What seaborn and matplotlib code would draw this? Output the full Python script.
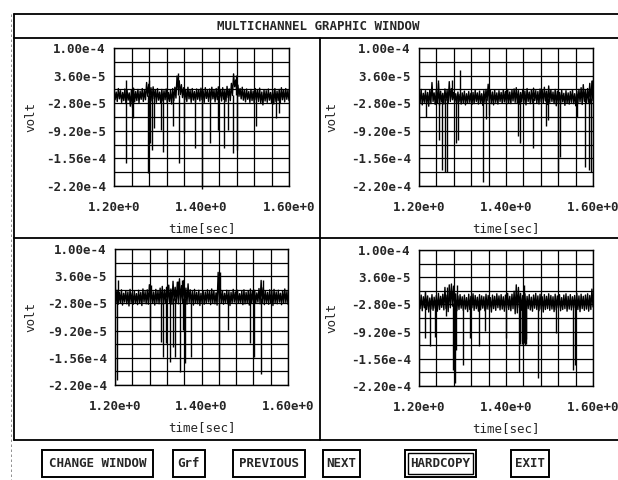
import numpy as np
import pandas as pd
import matplotlib
matplotlib.use("Agg")
import matplotlib.pyplot as plt
import seaborn as sns
from matplotlib.lines import Line2D
from matplotlib.patches import Rectangle

# noise band of each trace: upper / lower extremes every 5 ms, in 1e-5 volt
# --- channel 1 (top left) ---
ch1_hi = [0.4, -0.2, 0.6, 0.1, -0.3, 0.5, 0.2, -0.4, 0.3, 0.7,
          -0.1, 0.4, 0.0, 0.6, 0.2, 2.0, 1.6, 0.8, 1.0, 0.3,
          0.6, -0.2, 0.4, 0.1, 0.5, -0.3, 0.2, 0.6, 0.9, 3.5,
          2.4, 1.5, 0.8, 0.4, 0.9, 0.2, 0.6, -0.1, 0.5, 0.3,
          0.7, 0.1, 0.8, 0.2, 0.5, 0.9, 0.3, 0.6, 1.0, 0.4,
          0.8, 0.2, 1.1, 0.5, 1.8, 4.0, 2.6, 1.4, 0.6, 0.9,
          0.2, 0.5, -0.1, 0.4, 0.0, 0.6, 0.2, 0.7, -0.2, 0.3,
          0.1, 0.5, -0.3, 0.2, 0.6, 0.0, 0.4, 0.8, 0.3, 0.6,
          0.2]
ch1_lo = [-2.0, -2.4, -1.8, -2.6, -2.2, -2.9, -2.1, -3.5, -3.8, -2.5,
          -2.2, -2.7, -1.9, -2.4, -2.0, -1.2, -1.5, -2.3, -1.8, -2.6,
          -2.1, -2.8, -2.3, -2.0, -2.7, -2.4, -3.0, -2.2, -1.6, 0.5,
          -0.8, -1.5, -2.0, -2.4, -1.8, -2.6, -2.1, -2.5, -1.9, -2.3,
          -2.0, -2.6, -1.7, -2.4, -2.1, -1.8, -2.5, -2.0, -1.6, -2.3,
          -1.9, -2.4, -1.5, -2.2, -1.0, 1.0, -0.2, -1.2, -1.8, -2.1,
          -2.5, -1.9, -2.6, -2.2, -2.8, -2.0, -2.4, -2.7, -3.2, -2.3,
          -2.6, -2.1, -2.8, -3.0, -2.4, -2.2, -2.7, -2.0, -2.5, -1.9,
          -2.2]
ch1_level = -1.0
ch1_spike_t = [1.2267, 1.2280, 1.2434, 1.2785, 1.2805, 1.2825, 1.2870, 1.2910,
               1.3067, 1.3120, 1.3350, 1.3465, 1.3486, 1.3603, 1.3844, 1.4011,
               1.4187, 1.4377, 1.4507, 1.4606, 1.4720, 1.4790, 1.4803, 1.5250,
               1.5710, 1.5770]
ch1_spike_v = [-16.7, 2.6, -6.3, -19.0, 2.6, -12.0, -13.6, -8.6,
               -9.0, -14.0, -8.2, 4.2, -16.7, -9.8, -13.3, -22.6,
               -12.0, -9.0, -13.3, -9.0, -14.4, 3.8, -13.6, -8.2,
               -6.3, -5.0]

# --- channel 2 (top right) ---
ch2_hi = [-0.2, 0.4, -0.5, 0.1, -0.3, 0.3, 2.0, -0.4, 0.2, 1.8,
          0.0, -0.5, 0.5, 0.2, 2.2, 0.6, -0.3, -0.6, -0.2, -0.7,
          -0.4, 0.0, -0.6, -0.1, -0.5, -0.3, 0.2, -0.4, 0.0, -0.6,
          0.1, 0.4, 1.6, 0.3, -0.2, 0.2, -0.4, 0.1, -0.3, 0.3,
          -0.1, 0.4, -0.2, 0.2, 0.5, 0.8, 0.1, -0.3, 0.4, 0.0,
          0.6, -0.2, 0.3, 0.7, 0.1, -0.1, 0.5, 0.2, 0.9, 0.0,
          1.2, 0.3, -0.2, 0.4, 0.0, -0.3, 0.2, -0.5, 0.1, -0.4,
          -0.1, 0.3, -0.6, 0.0, 0.4, 0.8, 1.5, 0.2, 0.6, 1.8,
          2.3]
ch2_lo = [-2.8, -3.2, -2.6, -3.0, -3.5, -2.9, -2.4, -3.1, -2.7, -3.3,
          -2.5, -3.0, -2.2, -2.8, -2.4, -2.0, -2.6, -2.9, -2.5, -3.0,
          -2.7, -3.2, -2.8, -2.6, -3.1, -2.9, -2.4, -3.0, -2.7, -3.3,
          -2.6, -2.2, -2.5, -2.9, -3.2, -2.6, -3.0, -2.4, -2.8, -2.5,
          -3.1, -2.7, -2.9, -2.3, -2.6, -2.8, -3.0, -2.5, -2.7, -3.2,
          -2.4, -2.9, -2.6, -2.2, -2.8, -3.0, -2.5, -2.7, -2.3, -3.1,
          -2.6, -2.4, -2.9, -3.4, -2.7, -3.0, -2.5, -3.3, -2.8, -3.0,
          -2.6, -2.9, -3.4, -2.7, -2.5, -3.1, -2.4, -2.8, -2.6, -2.9,
          -2.2]
ch2_level = -1.6
ch2_spike_t = [1.2153, 1.2440, 1.2460, 1.2536, 1.2603, 1.2650, 1.2750, 1.2840,
               1.2897, 1.2935, 1.3470, 1.3550, 1.3620, 1.4276, 1.4314, 1.4620,
               1.4927, 1.4966, 1.5195, 1.5234, 1.5640, 1.5810, 1.5910, 1.5950,
               1.5980]
ch2_spike_v = [-5.9, 2.5, -11.3, -18.3, -18.7, -18.7, 2.6, -12.1,
               -11.3, 5.0, -21.0, -6.5, -5.5, -10.5, -12.1, -13.3,
               -8.2, -6.8, -18.7, -15.2, -5.9, -17.5, -18.3, -18.7,
               2.5]

# --- channel 3 (bottom left) ---
ch3_hi = [2.5, 0.3, -0.2, 0.4, -0.4, 0.2, -0.1, 0.5, -0.3, 0.1,
          -0.5, 0.3, -0.2, 0.6, 0.0, 0.4, 1.6, 0.2, -0.1, 0.5,
          0.2, 0.8, 1.2, 0.4, 1.0, 1.5, 0.6, 2.4, 1.0, 2.2,
          3.0, 1.4, 2.6, 0.8, 1.8, 0.4, 0.0, 0.5, -0.2, 0.3,
          -0.4, 0.2, -0.1, 0.4, 0.0, 0.6, 0.2, -0.3, 4.5, 0.8,
          0.2, -0.4, 0.3, 0.0, -0.2, 0.5, -0.1, 0.3, -0.5, 0.1,
          0.4, -0.2, 0.2, 0.6, 0.0, 0.3, -0.3, 0.7, 2.6, 0.9,
          0.1, -0.2, 0.4, 0.0, 0.5, -0.1, 0.3, -0.4, 0.2, 0.6,
          0.0]
ch3_lo = [-2.6, -3.0, -2.7, -3.2, -2.5, -2.9, -3.4, -2.6, -3.0, -2.8,
          -3.1, -2.7, -3.3, -2.5, -2.9, -3.0, -2.4, -2.8, -3.2, -2.6,
          -2.9, -2.5, -3.1, -2.7, -2.4, -2.8, -3.0, -2.2, -2.6, -2.9,
          -2.3, -2.7, -2.5, -3.0, -2.6, -2.8, -3.2, -2.7, -2.9, -3.3,
          -2.6, -3.0, -2.8, -2.5, -3.1, -2.7, -2.9, -3.2, -2.4, -2.8,
          -3.0, -2.6, -2.9, -3.3, -2.7, -2.5, -3.0, -2.8, -2.6, -3.1,
          -2.9, -2.7, -3.2, -2.6, -3.0, -2.8, -2.5, -2.9, -2.7, -3.1,
          -2.6, -3.0, -2.8, -3.3, -2.7, -2.9, -2.5, -3.1, -2.8, -2.6,
          -3.0]
ch3_level = -1.5
ch3_spike_t = [1.2054, 1.2070, 1.2808, 1.2840, 1.3054, 1.3115, 1.3190, 1.3270,
               1.3330, 1.3385, 1.3450, 1.3497, 1.3553, 1.3570, 1.3615, 1.3750,
               1.4403, 1.4438, 1.4615, 1.5131, 1.5208, 1.5385, 1.5420]
ch3_spike_v = [-20.8, 2.6, -9.1, 1.5, -11.9, -15.4, -12.2, -16.5,
               -13.0, -15.4, 2.5, -18.9, 2.8, -9.1, -16.9, -15.4,
               -18.5, 4.5, -9.1, -12.2, -15.4, -19.3, 2.6]

# --- channel 4 (bottom right) ---
ch4_hi = [-1.2, -0.6, -1.0, 0.2, -0.8, -1.3, -0.5, -1.1, -0.7, -0.2,
          -0.9, -0.4, 1.2, -0.6, 1.8, 2.0, 1.5, -0.3, -0.8, -0.5,
          -1.0, -0.6, -1.2, -0.4, -0.9, -0.3, -0.7, -1.1, -0.5, -0.8,
          -1.0, -0.4, -0.7, -1.2, -0.6, -0.9, -0.3, -0.8, -0.5, -1.0,
          -0.6, -0.2, -0.9, -0.4, 0.3, 1.8, 1.2, -0.2, -0.7, -0.3,
          -0.9, -0.5, -1.1, -0.6, -0.2, -0.8, -0.4, -1.0, -0.5, -0.9,
          -0.3, -0.7, -1.0, -0.4, -0.8, -0.5, -1.2, -0.6, -0.3, -0.9,
          -0.5, -1.0, -0.7, -0.2, -0.8, -0.4, -0.9, -0.6, -0.3, -0.7,
          0.8]
ch4_lo = [-3.8, -4.3, -3.6, -4.0, -4.6, -3.9, -4.2, -3.7, -4.4, -4.0,
          -3.5, -4.1, -3.8, -4.5, -3.6, -3.2, -3.9, -4.3, -4.0, -3.7,
          -4.2, -3.9, -4.5, -4.0, -3.6, -4.2, -3.8, -4.4, -4.1, -3.7,
          -4.3, -3.9, -4.0, -4.6, -3.8, -4.2, -3.6, -4.1, -3.9, -4.4,
          -3.7, -4.0, -4.3, -3.8, -5.0, -4.8, -3.6, -4.2, -3.9, -4.5,
          -3.8, -4.1, -4.4, -3.7, -4.0, -4.3, -3.9, -4.6, -4.0, -3.8,
          -4.2, -3.9, -4.5, -4.1, -3.7, -4.3, -4.0, -3.8, -4.4, -3.9,
          -4.1, -3.6, -4.3, -4.0, -4.5, -3.8, -4.2, -3.9, -4.4, -4.0,
          -3.4]
ch4_level = -2.5
ch4_spike_t = [1.2130, 1.2245, 1.2360, 1.2628, 1.2640, 1.2780, 1.2820, 1.2860,
               1.2870, 1.3010, 1.3165, 1.3390, 1.3510, 1.4008, 1.4310, 1.4330,
               1.4360, 1.4375, 1.4395, 1.4410, 1.4425, 1.4440, 1.4455, 1.4470,
               1.4740, 1.5157, 1.5540, 1.5590]
ch4_spike_v = [-10.8, -12.5, -10.5, -5.5, 1.2, -18.2, -21.4, -13.5,
               1.8, -17.0, -10.8, -12.5, -9.0, -10.8, -18.8, -12.0,
               -11.5, -12.2, -12.0, 1.8, -11.8, -12.4, -12.0, -11.0,
               -20.2, -9.6, -18.2, -17.0]

x_ticks = [1.2, 1.4, 1.6]
x_labels = ["1.20e+0", "1.40e+0", "1.60e+0"]
y_ticks = [1.0e-4, 3.6e-5, -2.8e-5, -9.2e-5, -1.56e-4, -2.2e-4]
y_labels = ["1.00e-4", "3.60e-5", "-2.80e-5", "-9.20e-5", "-1.56e-4", "-2.20e-4"]
buttons = ["CHANGE WINDOW", "Grf", "PREVIOUS", "NEXT", "HARDCOPY", "EXIT"]

channels = [(ch1_hi, ch1_lo, ch1_level, ch1_spike_t, ch1_spike_v),
            (ch2_hi, ch2_lo, ch2_level, ch2_spike_t, ch2_spike_v),
            (ch3_hi, ch3_lo, ch3_level, ch3_spike_t, ch3_spike_v),
            (ch4_hi, ch4_lo, ch4_level, ch4_spike_t, ch4_spike_v)]

sns.set_style("white")
plt.rcParams["font.family"] = ["DejaVu Sans Mono"]
plt.rcParams["font.weight"] = "bold"
plt.rcParams["font.size"] = 9

W, H = 618, 480
fig = plt.figure(figsize=(W / 100, H / 100), dpi=100)
fig.patch.set_facecolor("white")


def px_box(l, t, r, b):
    return [l / W, 1 - b / H, (r - l) / W, (b - t) / H]


def hline(y, x0, x1, lw=1.3):
    fig.add_artist(Line2D([x0 / W, x1 / W], [1 - y / H, 1 - y / H],
                          transform=fig.transFigure, color="black", lw=lw))


def vline(x, y0, y1, lw=1.3):
    fig.add_artist(Line2D([x / W, x / W], [1 - y0 / H, 1 - y1 / H],
                          transform=fig.transFigure, color="black", lw=lw))


# window frame
hline(14, 14, 618)
hline(38, 14, 618)
hline(238, 14, 618)
hline(440, 14, 618)
vline(14, 14, 440)
vline(320, 38, 440)
fig.add_artist(Line2D([11 / W, 11 / W], [1 - 14 / H, 0], transform=fig.transFigure,
                      color="0.5", lw=0.6, ls=(0, (3, 3))))
fig.text(318 / W, 1 - 26 / H, "MULTICHANNEL GRAPHIC WINDOW", ha="center", va="center")

# panel axes in pixels (left, top, right, bottom) and x of the "volt" label edge
axes_px = [(114, 48, 289, 186), (419, 48, 593, 186),
           (115, 249, 288, 385), (419, 250, 593, 386)]
volt_x = [37, 338, 37, 338]
grid_x = np.linspace(1.2, 1.6, 11)
grid_y = np.linspace(-2.2e-4, 1.0e-4, 11)
t_band = np.linspace(1.2, 1.6, 162)

for (hi, lo, level, sp_t, sp_v), box, vx in zip(channels, axes_px, volt_x):
    ax = fig.add_axes(px_box(*box))
    # trace zig-zags between the upper and lower noise extremes
    band = np.column_stack([hi, lo]).ravel()
    df = pd.DataFrame({"time": t_band, "volt": band * 1e-5})
    sns.lineplot(data=df, x="time", y="volt", ax=ax, color="black",
                 lw=1.0, sort=True, estimator=None)
    ax.vlines(sp_t, level * 1e-5, np.array(sp_v) * 1e-5, color="black",
              lw=1.0, clip_on=False)
    ax.set_xlim(1.2, 1.6)
    ax.set_ylim(-2.2e-4, 1.0e-4)
    ax.set_xticks(x_ticks)
    ax.set_xticklabels(x_labels)
    ax.set_yticks(y_ticks)
    ax.set_yticklabels(y_labels)
    ax.set_xticks(grid_x, minor=True)
    ax.set_yticks(grid_y, minor=True)
    ax.grid(True, which="both", color="black", lw=0.9)
    ax.tick_params(which="minor", length=0)
    ax.tick_params(axis="y", which="major", direction="out", length=5,
                   width=1, color="black", pad=1, labelsize=9)
    ax.tick_params(axis="x", which="major", direction="out", length=3,
                   width=1, color="black", pad=8, labelsize=9)
    for s in ax.spines.values():
        s.set_color("black")
        s.set_linewidth(1.0)
    w = box[2] - box[0]
    h = box[3] - box[1]
    ax.set_ylabel("volt")
    ax.yaxis.set_label_coords((vx - box[0]) / w, 0.5)
    ax.set_xlabel("time[sec]")
    ax.xaxis.set_label_coords(0.5, -36 / h)

# buttons
btn_px = [(42, 153), (173, 205), (233, 305), (323, 360), (405, 476), (511, 549)]
for name, (l, r) in zip(buttons, btn_px):
    fig.add_artist(Rectangle((l / W, 1 - 477 / H), (r - l) / W, 27 / H,
                             transform=fig.transFigure, fill=False,
                             edgecolor="black", lw=1.4))
    if name == "HARDCOPY":
        fig.add_artist(Rectangle(((l + 3) / W, 1 - 474 / H), (r - l - 6) / W, 21 / H,
                                 transform=fig.transFigure, fill=False,
                                 edgecolor="black", lw=1.0))
    fig.text((l + r) / 2 / W, 1 - 463.5 / H, name, ha="center", va="center")

fig.savefig("out.png", dpi=100, facecolor="white")
